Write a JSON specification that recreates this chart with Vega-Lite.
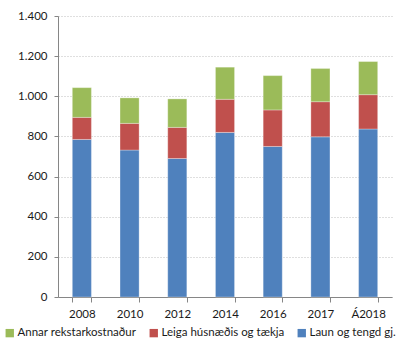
{
  "$schema": "https://vega.github.io/schema/vega-lite/v6.json",
  "width": 334,
  "height": 281,
  "autosize": {"type": "none"},
  "padding": {"left": 58, "top": 16, "right": 6, "bottom": 46},
  "data": {
    "values": [
      {"ar": "2008", "flokkur": "Laun og tengd gj.", "rod": 1, "m": 785},
      {"ar": "2008", "flokkur": "Leiga húsnæðis og tækja", "rod": 2, "m": 110},
      {"ar": "2008", "flokkur": "Annar rekstarkostnaður", "rod": 3, "m": 148},
      {"ar": "2010", "flokkur": "Laun og tengd gj.", "rod": 1, "m": 732},
      {"ar": "2010", "flokkur": "Leiga húsnæðis og tækja", "rod": 2, "m": 133},
      {"ar": "2010", "flokkur": "Annar rekstarkostnaður", "rod": 3, "m": 127},
      {"ar": "2012", "flokkur": "Laun og tengd gj.", "rod": 1, "m": 690},
      {"ar": "2012", "flokkur": "Leiga húsnæðis og tækja", "rod": 2, "m": 155},
      {"ar": "2012", "flokkur": "Annar rekstarkostnaður", "rod": 3, "m": 142},
      {"ar": "2014", "flokkur": "Laun og tengd gj.", "rod": 1, "m": 820},
      {"ar": "2014", "flokkur": "Leiga húsnæðis og tækja", "rod": 2, "m": 165},
      {"ar": "2014", "flokkur": "Annar rekstarkostnaður", "rod": 3, "m": 160},
      {"ar": "2016", "flokkur": "Laun og tengd gj.", "rod": 1, "m": 750},
      {"ar": "2016", "flokkur": "Leiga húsnæðis og tækja", "rod": 2, "m": 182},
      {"ar": "2016", "flokkur": "Annar rekstarkostnaður", "rod": 3, "m": 171},
      {"ar": "2017", "flokkur": "Laun og tengd gj.", "rod": 1, "m": 798},
      {"ar": "2017", "flokkur": "Leiga húsnæðis og tækja", "rod": 2, "m": 175},
      {"ar": "2017", "flokkur": "Annar rekstarkostnaður", "rod": 3, "m": 165},
      {"ar": "Á2018", "flokkur": "Laun og tengd gj.", "rod": 1, "m": 837},
      {"ar": "Á2018", "flokkur": "Leiga húsnæðis og tækja", "rod": 2, "m": 171},
      {"ar": "Á2018", "flokkur": "Annar rekstarkostnaður", "rod": 3, "m": 165}
    ]
  },
  "mark": {"type": "bar", "stroke": "#ffffff", "strokeWidth": 0.5, "strokeOpacity": 0.6},
  "encoding": {
    "x": {
      "field": "ar", "type": "nominal", "sort": null, "title": null,
      "scale": {"paddingInner": 0.6, "paddingOuter": 0.3},
      "axis": {
        "labelAngle": 0, "tickBand": "extent", "tickSize": 5, "tickColor": "#868686",
        "domainColor": "#868686", "labelFont": "Lato", "labelFontSize": 11.5,
        "labelColor": "#1a1a1a", "labelPadding": 6, "grid": false
      }
    },
    "y": {
      "field": "m", "type": "quantitative", "aggregate": "sum", "stack": "zero", "title": null,
      "scale": {"domain": [0, 1400], "nice": false},
      "axis": {
        "values": [0, 200, 400, 600, 800, 1000, 1200, 1400],
        "labelExpr": "replace(format(datum.value, ','), ',', '.')",
        "tickSize": 4, "tickColor": "#868686", "domainColor": "#868686",
        "gridColor": "#bfbfbf", "gridDash": [1, 2], "labelFont": "Lato",
        "labelFontSize": 11.5, "labelColor": "#1a1a1a", "labelPadding": 7
      }
    },
    "color": {
      "field": "flokkur", "type": "nominal", "title": null,
      "scale": {
        "domain": ["Annar rekstarkostnaður", "Leiga húsnæðis og tækja", "Laun og tengd gj."],
        "range": ["#9BBB59", "#C0504D", "#4F81BD"]
      },
      "legend": {
        "orient": "none", "direction": "horizontal", "legendX": -54, "legendY": 311,
        "symbolType": "square", "symbolSize": 70, "symbolStrokeWidth": 0,
        "labelFont": "Lato", "labelFontSize": 11.5, "labelColor": "#1a1a1a",
        "columnPadding": 11, "labelOffset": 2, "labelLimit": 200
      }
    },
    "order": {"field": "rod", "type": "quantitative", "sort": "ascending"}
  },
  "config": {"view": {"stroke": null}, "background": "#ffffff"}
}
